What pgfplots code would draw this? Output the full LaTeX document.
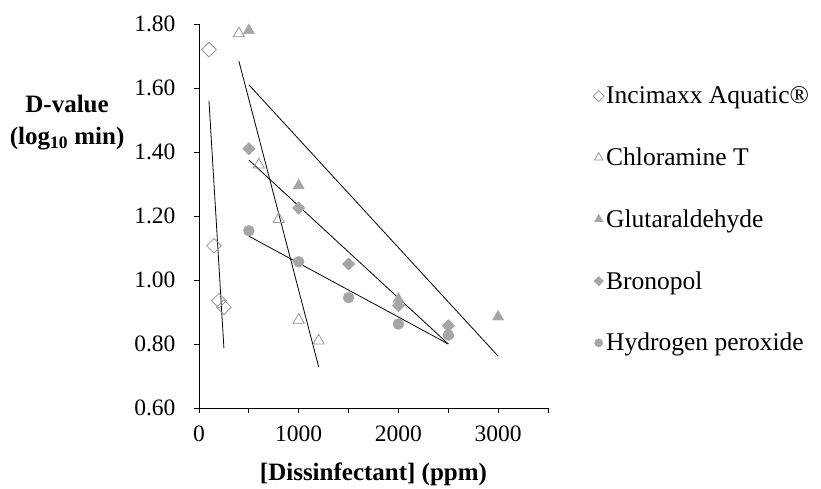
\documentclass[border=0pt]{standalone}
\usepackage{pgfplots}
\pgfplotsset{compat=1.18}
\usepackage{fontspec}
\setmainfont{Liberation Serif}
\definecolor{mk}{RGB}{166,166,166}
\definecolor{mko}{RGB}{150,150,150}
\begin{document}
\begin{tikzpicture}
\path (-199bp,-78bp) rectangle (622bp,408bp);
\begin{axis}[
  scale only axis,
  width=349bp, height=384bp,
  xmin=0, xmax=3500, ymin=0.6, ymax=1.8,
  axis x line*=bottom, axis y line*=left,
  axis line style={line width=0.9bp},
  tick align=outside, major tick length=5bp,
  tick style={black, line width=0.9bp},
  xtick={0,500,...,3500},
  xticklabels={0,,1000,,2000,,3000,},
  ytick={0.6,0.8,...,1.81},
  yticklabel style={xshift=-15bp, /pgf/number format/fixed, /pgf/number format/fixed zerofill, /pgf/number format/precision=2},
  /pgf/number format/assume math mode=true,
  tick label style={font=\fontsize{23.5bp}{28bp}\selectfont},
  xticklabel style={yshift=-9bp},
  scaled ticks=false,
  xlabel={\textbf{[Dissinfectant] (ppm)}},
  xlabel style={font=\fontsize{25bp}{29bp}\selectfont, at={(axis description cs:0.5,-0.172)}, anchor=center},
  ylabel={\textbf{D-value}\\\textbf{(log\textsubscript{10} min)}},
  ylabel style={font=\fontsize{25bp}{32bp}\selectfont, align=center, rotate=-90, at={(axis description cs:-0.378,0.742)}, anchor=center},
  legend style={draw=none, inner xsep=0pt, at={(axis description cs:1.129,0.847)}, anchor=north west,
    font=\fontsize{25.5bp}{30bp}\selectfont, row sep=38.6bp,
    /tikz/every even column/.append style={column sep=5bp}},
  legend cell align=left,
  legend image code/.code={\draw[mark repeat=2,mark phase=2] plot coordinates {(0bp,0bp)(5bp,0bp)(10bp,0bp)};},
  legend image post style={/tikz/every mark/.append style={scale=0.75}},
]
% trend lines
\addplot[black, line width=0.8bp, forget plot] coordinates {(100,1.56) (250,0.787)};
\addplot[black, line width=0.8bp, forget plot] coordinates {(400,1.684) (1200,0.729)};
\addplot[black, line width=0.8bp, forget plot] coordinates {(500,1.61) (3000,0.762)};
\addplot[black, line width=0.8bp, forget plot] coordinates {(500,1.375) (2500,0.80)};
\addplot[black, line width=0.8bp, forget plot] coordinates {(500,1.137) (2500,0.80)};
% data
\addplot[only marks, mark=square, mark size=5.2bp, mark options={rotate=45, draw=mko, fill=white, line width=0.8bp}]
  coordinates {(100,1.72) (150,1.107) (200,0.935) (250,0.915)};
\addlegendentry{Incimaxx Aquatic®}
\addplot[only marks, mark=triangle, mark size=6.5bp, mark options={draw=mko, fill=white, line width=0.8bp}]
  coordinates {(400,1.77) (600,1.36) (800,1.19) (1000,0.875) (1200,0.81)};
\addlegendentry{Chloramine T}
\addplot[only marks, mark=triangle*, mark size=6.5bp, mark options={draw=mk, fill=mk}]
  coordinates {(500,1.78) (1000,1.295) (2000,0.94) (2500,0.83) (3000,0.885)};
\addlegendentry{Glutaraldehyde}
\addplot[only marks, mark=square*, mark size=4.4bp, mark options={rotate=45, draw=mk, fill=mk}]
  coordinates {(500,1.41) (1000,1.225) (1500,1.05) (2000,0.92) (2500,0.857)};
\addlegendentry{Bronopol}
\addplot[only marks, mark=*, mark size=5.5bp, mark options={draw=mk, fill=mk}]
  coordinates {(500,1.154) (1000,1.057) (1500,0.945) (2000,0.8625) (2500,0.828)};
\addlegendentry{Hydrogen peroxide}
\end{axis}
\end{tikzpicture}
\end{document}
